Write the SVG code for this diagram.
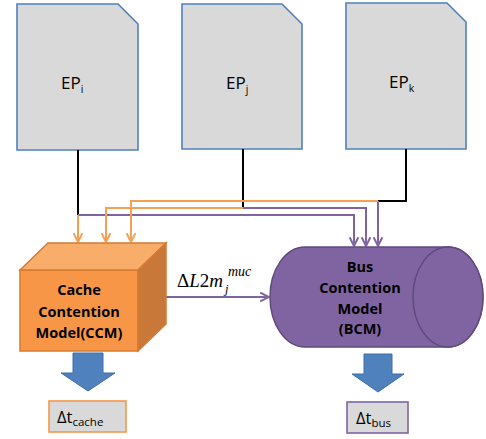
<svg xmlns="http://www.w3.org/2000/svg" width="486" height="439" viewBox="0 0 486 439">
<style>
.ep{fill:#D9D9D9;stroke:#4F81BD;stroke-width:1.6}
.t{font-family:"Open Sans","Liberation Sans",sans-serif;fill:#000}
.b{font-family:"Open Sans","Liberation Sans",sans-serif;font-weight:bold;font-size:14.5px;fill:#000;text-anchor:middle}
.blk{fill:none;stroke:#000;stroke-width:2}
.pur{fill:none;stroke:#8064A2;stroke-width:2}
.org{fill:none;stroke:#F4A055;stroke-width:2}
.barrow{fill:#4F81BD;stroke:#3F6FA8;stroke-width:1}
.m{font-family:"Liberation Serif","DejaVu Serif",serif;fill:#000}
</style>
<defs>
<marker id="ap" viewBox="0 0 10 10" refX="9" refY="5" markerWidth="11" markerHeight="11" markerUnits="userSpaceOnUse" orient="auto"><path d="M1,1 L9,5 L1,9" fill="none" stroke="#8064A2" stroke-width="1.8"/></marker>
<marker id="ao" viewBox="0 0 10 10" refX="9" refY="5" markerWidth="11" markerHeight="11" markerUnits="userSpaceOnUse" orient="auto"><path d="M1,1 L9,5 L1,9" fill="none" stroke="#F4A055" stroke-width="1.8"/></marker>
</defs>

<g id="ep_i">
<path class="ep" d="M17,4 H118 L138,24 V150 H17 Z"/>
<text class="t" x="61" y="89" font-size="17">EP<tspan font-size="10.5" dy="4">i</tspan></text>
</g>
<g id="ep_j">
<path class="ep" d="M182,4 H282 L302,24 V149 H182 Z"/>
<text class="t" x="226" y="89" font-size="17">EP<tspan font-size="10.5" dy="4">j</tspan></text>
</g>
<g id="ep_k">
<path class="ep" d="M346,3 H447 L466,22 V149 H346 Z"/>
<text class="t" x="389" y="88" font-size="17">EP<tspan font-size="10.5" dy="4">k</tspan></text>
</g>

<g id="connectors">
<path class="blk" d="M78,150 V215"/>
<path class="blk" d="M243,149 V208"/>
<path class="blk" d="M406,149 V201 H378"/>
<path class="pur" d="M78,215 H354 V246" marker-end="url(#ap)"/>
<path class="pur" d="M243,208 H366 V246" marker-end="url(#ap)"/>
<path class="pur" d="M378,201 V246" marker-end="url(#ap)"/>
<path class="org" d="M78,215 V242" marker-end="url(#ao)"/>
<path class="org" d="M243,208 H106 V242" marker-end="url(#ao)"/>
<path class="org" d="M378,201 H131 V242" marker-end="url(#ao)"/>
<path class="pur" d="M166,297 H269" marker-end="url(#ap)"/>
<text class="m" x="177" y="287" font-size="19">Δ<tspan font-style="italic">L</tspan>2<tspan font-style="italic">m</tspan></text>
<text class="m" x="225" y="293" font-size="12.5" font-style="italic">j</text>
<text class="m" x="228" y="276" font-size="14" font-style="italic">muc</text>
</g>

<g id="ccm">
<rect x="20" y="270" width="118" height="81" fill="#F79646" stroke="#D67B30" stroke-width="1.5"/>
<polygon points="20,270 48,243 166,243 138,270" fill="#F9AD6A" stroke="#D67B30" stroke-width="1.5"/>
<polygon points="138,270 166,243 166,324 138,351" fill="#C8793A" stroke="#D67B30" stroke-width="1.5"/>
<text class="b" x="79" y="295">Cache</text>
<text class="b" x="79" y="317">Contention</text>
<text class="b" x="79" y="338">Model(CCM)</text>
</g>

<g id="bcm">
<path d="M305,247 H448 A35,50 0 0 1 448,347 H305 A35,50 0 0 1 305,247 Z" fill="#8064A2" stroke="#5F4A7C" stroke-width="1.5"/>
<ellipse cx="448" cy="297" rx="35" ry="50" fill="#8064A2" stroke="#5F4A7C" stroke-width="1.5"/>
<text class="b" x="360" y="272">Bus</text>
<text class="b" x="360" y="293">Contention</text>
<text class="b" x="360" y="314">Model</text>
<text class="b" x="360" y="334">(BCM)</text>
</g>

<g id="out_cache">
<polygon class="barrow" points="73,353 103,353 103,373 115,373 88,391 61,373 73,373"/>
<rect x="49" y="401" width="77" height="31" fill="#D9D9D9" stroke="#F79646" stroke-width="1.6"/>
<text class="t" x="57" y="423" font-size="16.5">Δt<tspan font-size="11.5" dy="3">cache</tspan></text>
</g>

<g id="out_bus">
<polygon class="barrow" points="364,354 392,354 392,374 404,374 378,392 352,374 364,374"/>
<rect x="347" y="402" width="61" height="31" fill="#D9D9D9" stroke="#8064A2" stroke-width="1.6"/>
<text class="t" x="356" y="424" font-size="16.5">Δt<tspan font-size="11.5" dy="3">bus</tspan></text>
</g>
</svg>
